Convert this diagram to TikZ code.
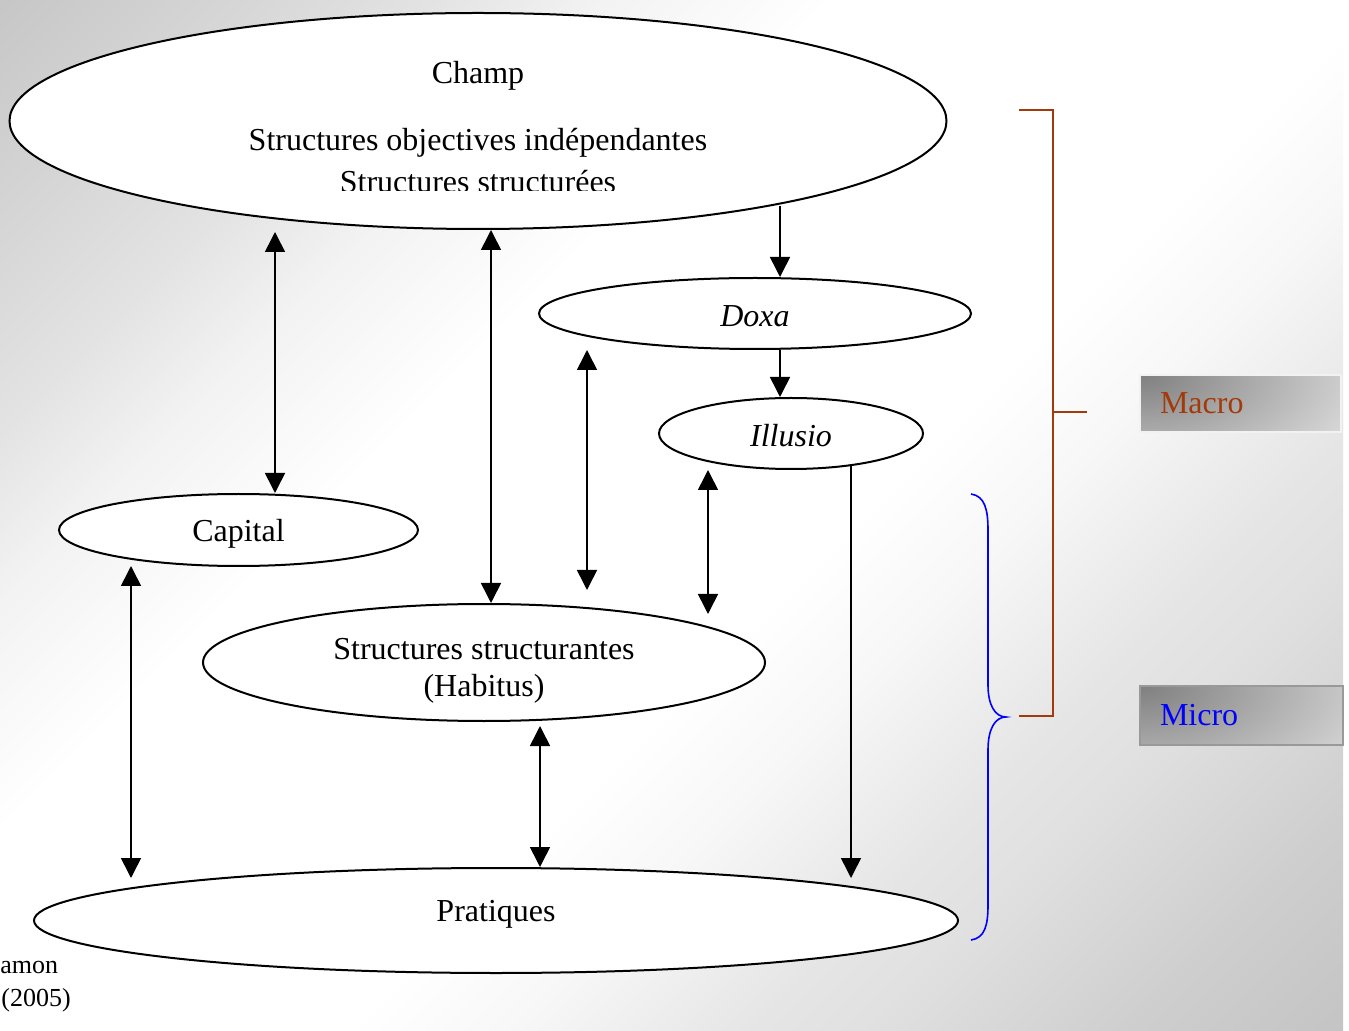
\documentclass[tikz,border=0pt]{standalone}
\usepackage{fontspec}
\setmainfont{Liberation Serif}
\usetikzlibrary{shapes.geometric, arrows.meta, positioning}
\definecolor{rouille}{RGB}{163,58,10}
\definecolor{bleumicro}{RGB}{0,0,255}
\pgfdeclareverticalshading{fondpp}{100bp}{color(0bp)=(black!23); color(14.6bp)=(black!23);
  color(21bp)=(black!19); color(28.8bp)=(black!12); color(32.3bp)=(black!10);
  color(39.4bp)=(black!3); color(44.3bp)=(white); color(60.6bp)=(white);
  color(67.7bp)=(black!5); color(72.6bp)=(black!11); color(78.3bp)=(black!16);
  color(85.4bp)=(black!22); color(100bp)=(black!22)}

\begin{document}
\begin{tikzpicture}[
    x=0.5pt, y=-0.5pt,
    every node/.style={font=\fontsize{16}{18.5}\selectfont, align=center, inner sep=0pt},
    bulle/.style={ellipse, draw, fill=white, line width=1pt},
    fleche/.style={line width=0.8pt, -{Triangle[length=10pt, width=10pt]}},
    duo/.style={line width=0.8pt, {Triangle[length=10pt, width=10pt]}-{Triangle[length=10pt, width=10pt]}},
    niveau/.style={minimum height=28.5pt, text width=80.5pt, inner xsep=10pt, align=left,
      path picture={\shade[inner color=black!50, outer color=#1]
        (path picture bounding box.north west) ellipse (150pt and 75pt);}}
  ]
  \useasboundingbox (0,0) rectangle (1349,1031);
  % fond
  \fill[white] (0,0) rectangle (1349,1031);
  \shade[shading=fondpp, shading angle=45] (0,0) rectangle (1343,1031);

  % Ellipses
  \node (champ) [bulle, minimum width=468.5pt, minimum height=108pt] at (478,121) {};
  \begin{scope}
    \clip (0,0) rectangle (1349,190.5);
    \node (champ_texte) [anchor=north, font=\fontsize{16}{21}\selectfont] at (478,61)
      {Champ\\[12.5pt]Structures objectives indépendantes\\Structures structurées};
  \end{scope}
  \node (doxa) [bulle, minimum width=216pt, minimum height=35.5pt, text height=13pt] at (755,313.5) {\textit{Doxa}};
  \node (illusio) [bulle, minimum width=132pt, minimum height=35.5pt, text height=13pt] at (791,433.5) {\textit{Illusio}};
  \node (capital) [bulle, minimum width=179.5pt, minimum height=36pt, text height=15pt] at (238.5,530) {Capital};
  \node (habitus) [bulle, minimum width=281pt, minimum height=58.5pt] at (484,662.5)
    {\rule{0pt}{19pt}Structures structurantes\\(Habitus)};
  \node (pratiques) [bulle, minimum width=462pt, minimum height=52.5pt, text depth=10pt] at (496,920.5) {Pratiques};

  % Extremites libres des fleches
  \coordinate (cap_haut) at (275,232);
  \coordinate (hab_col) at (491,0);
  \coordinate (doxa_col) at (780,0);
  \coordinate (dh_haut) at (587,350);
  \coordinate (dh_bas) at (587,590);
  \coordinate (ih_haut) at (708,470);
  \coordinate (ih_bas) at (708,614);
  \coordinate (ip_bas) at (851,878);
  \coordinate (cp_haut) at (131,566);
  \coordinate (cp_bas) at (131,878);
  \coordinate (hp_haut) at (540,726);

  % Fleches
  \draw [duo] (cap_haut) -- (cap_haut |- capital.north);
  \draw [duo] (hab_col |- champ.south) -- (hab_col |- habitus.north);
  \draw [fleche] (doxa_col |- champ.344.7) -- (doxa_col |- doxa.north);
  \draw [fleche] (doxa_col |- doxa.south) -- (doxa_col |- illusio.north);
  \draw [duo] (dh_haut) -- (dh_bas);
  \draw [duo] (ih_haut) -- (ih_bas);
  \draw [fleche] (ip_bas |- illusio.332.2) -- (ip_bas);
  \draw [duo] (cp_haut) -- (cp_bas);
  \draw [duo] (hp_haut) -- (hp_haut |- pratiques.north);

  % Niveaux
  \draw [rouille, line width=1pt] (1019,110) -- (1053,110) -- (1053,716) -- (1019,716);
  \draw [rouille, line width=1pt] (1053,412) -- (1087,412);
  \draw [bleumicro, line width=0.8pt] (971,494) .. controls (985,496) and (988,510) .. (988,530)
    -- (988,685) .. controls (988,705) and (995,717) .. (1006,717)
    .. controls (995,717) and (988,729) .. (988,750)
    -- (988,905) .. controls (988,925) and (985,938) .. (971,940);
  \node (macro) [niveau=black!5, draw=black!5, line width=1pt] at (1240.5,403.5) {\color{rouille}Macro};
  \node (micro) [niveau=black!9, draw=black!40, line width=1pt, minimum height=29.5pt, text width=81.5pt] at (1241.5,715.5) {\color{bleumicro}Micro};

  % Source
  \node (source_a) [anchor=base west, font=\fontsize{13}{15}\selectfont] at (0,973) {amon};
  \node (source_b) [anchor=base west, font=\fontsize{13}{15}\selectfont] at (1,1006) {(2005)};
\end{tikzpicture}
\end{document}
